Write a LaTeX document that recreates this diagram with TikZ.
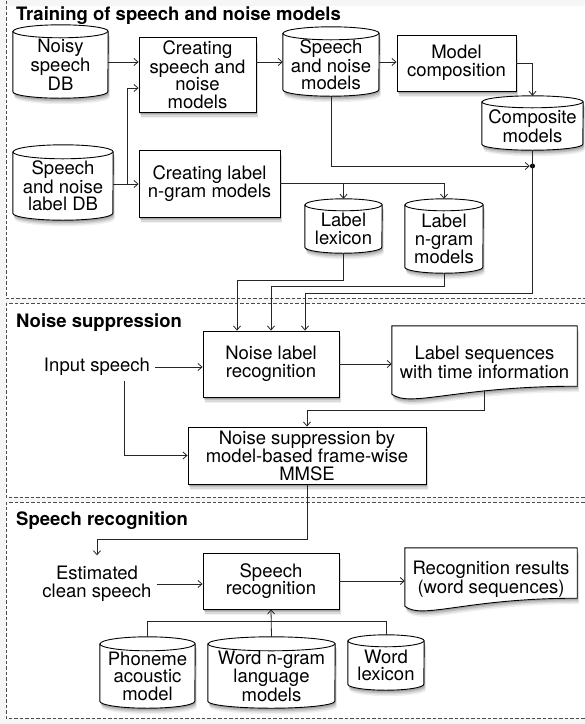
\documentclass[tikz,border=0pt]{standalone}
\usepackage{fontspec}
\setmainfont{TeX Gyre Heros}
\usetikzlibrary{arrows.meta,calc,backgrounds}
\pgfdeclarelayer{shp}
\pgfsetlayers{background,shp,main}
\newcommand\myfs{\fontsize{18.5}{17.5}\selectfont}
\tikzset{
  shad/.style={
    preaction={fill=black,opacity=0.14,transform canvas={xshift=0.5pt,yshift=-1.5pt}},
    preaction={fill=black,opacity=0.12,transform canvas={xshift=1pt,yshift=-3pt}},
    preaction={fill=black,opacity=0.09,transform canvas={xshift=1.5pt,yshift=-4.5pt}},
    preaction={fill=black,opacity=0.06,transform canvas={xshift=2pt,yshift=-6pt}}},
  box/.style={draw=black,line width=0.9pt,fill=white,shad,align=center,inner sep=0pt,font=\myfs},
  holder/.style={draw=none,align=center,inner sep=0pt,font=\myfs},
  plain/.style={align=center,inner sep=5pt,font=\myfs},
  ttl/.style={anchor=base west,inner sep=0pt,font=\myfs\bfseries},
  outline/.style={draw=black,line width=0.9pt,fill=white,shad},
  arr/.style={draw=black!85,line width=0.8pt,-{Straight Barb[length=4pt,width=7pt]}},
  conn/.style={draw=black!85,line width=0.8pt},
  frame/.style={draw=black!70,line width=0.9pt,dash pattern=on 3.5pt off 2pt},
  dotnode/.style={circle,fill=black,inner sep=0pt,minimum size=5pt}
}
% cylinder outline behind a holder node: #1 node, #2 x radius, #3 y radius
\newcommand\cylshape[3]{%
  \begin{pgfonlayer}{shp}
    \path[outline] (#1.north west) -- ([yshift=#3]#1.south west)
      arc[start angle=180,end angle=360,x radius=#2,y radius=#3]
      -- (#1.north east)
      arc[start angle=0,end angle=180,x radius=#2,y radius=#3] -- cycle;
    \draw[line width=0.9pt] (#1.north west)
      arc[start angle=180,end angle=360,x radius=#2,y radius=#3];
  \end{pgfonlayer}}
% document shape with wavy bottom behind a holder node
\newcommand\docshape[1]{%
  \begin{pgfonlayer}{shp}
    \path[outline] (#1.north west) -- (#1.north east) -- ([yshift=13pt]#1.south east)
      .. controls ($(#1.south west)!0.35!(#1.south east)+(0,13pt)$)
      and ($(#1.south west)!0.1!(#1.south east)+(0,-9pt)$) ..
      ([yshift=5pt]#1.south west) -- cycle;
  \end{pgfonlayer}}
\begin{document}
\begin{tikzpicture}[x=1pt,y=1pt]
\useasboundingbox (0,0) rectangle (585,-724);
% backgrounds and frames
\begin{pgfonlayer}{background}
\fill[gray!7] (0,0) rectangle (585,-724);
\fill[white] (6,-6) rectangle (585,-298);
\draw[frame] (6,5) -- (6,-298) -- (590,-298);
\fill[white] (6,-303) rectangle (585,-497);
\draw[frame] (590,-303) -- (6,-303) -- (6,-497) -- (590,-497);
\fill[white] (6,-502) rectangle (585,-718);
\draw[frame] (590,-502) -- (6,-502) -- (6,-718) -- (590,-718);
\end{pgfonlayer}

% titles
\node[ttl] (t1) at (16,-20) {Training of speech and noise models};
\node[ttl] (t2) at (16,-327) {Noise suppression};
\node[ttl] (t3) at (16,-525) {Speech recognition};

% section 1
\node[holder,minimum width=95pt,minimum height=66.5pt] (noisy) at (60.5,-64.75) {Noisy\\speech\\DB};
\cylshape{noisy}{47.5pt}{6.5pt}
\node[box,minimum width=117pt,minimum height=75pt] (csnm) at (197.5,-74.5) {Creating\\speech and\\noise\\models};
\node[holder,minimum width=96pt,minimum height=62.5pt] (snm) at (331,-64.75) {Speech\\and noise\\models};
\cylshape{snm}{48pt}{6.5pt}
\node[box,minimum width=119pt,minimum height=56pt] (mc) at (456.5,-63) {Model\\composition};
\node[holder,minimum width=101pt,minimum height=48pt] (comp) at (532.5,-126) {Composite\\models};
\cylshape{comp}{50.5pt}{6pt}
\node[holder,minimum width=100pt,minimum height=68pt] (labeldb) at (63,-186) {Speech\\and noise\\label DB};
\cylshape{labeldb}{50pt}{7pt}
\node[box,minimum width=141pt,minimum height=67pt] (clng) at (209.5,-183.5) {Creating label\\n-gram models};
\node[holder,minimum width=77pt,minimum height=48pt] (lex) at (343.5,-229) {Label\\lexicon};
\cylshape{lex}{38.5pt}{6pt}
\node[holder,minimum width=78pt,minimum height=68pt] (lng) at (444,-239) {Label\\n-gram\\models};
\cylshape{lng}{39pt}{6pt}
\node[dotnode] (dot) at (532.5,-166) {};

% section 2
\node[plain] (inp) at (97,-367) {Input speech};
\node[box,minimum width=136pt,minimum height=66pt] (nlr) at (271,-364) {Noise label\\recognition};
\node[holder,minimum width=185pt,minimum height=73pt] (lsti) at (484.5,-362.5) {Label sequences\\with time information};
\docshape{lsti}
\node[box,minimum width=238pt,minimum height=57pt] (mmse) at (307,-455.5) {Noise suppression by\\model-based frame-wise\\MMSE};

% section 3
\node[plain] (est) at (97,-584) {Estimated\\clean speech};
\node[box,minimum width=136pt,minimum height=56pt] (sr) at (271,-581) {Speech\\recognition};
\node[holder,minimum width=172pt,minimum height=63pt] (rr) at (491,-579.5) {Recognition results\\(word sequences)};
\docshape{rr}
\node[holder,minimum width=95pt,minimum height=64pt] (phon) at (147.5,-676) {Phoneme\\acoustic\\model};
\cylshape{phon}{47.5pt}{7pt}
\node[holder,minimum width=127pt,minimum height=64pt] (wng) at (271.5,-676) {Word n-gram\\language\\models};
\cylshape{wng}{63.5pt}{7pt}
\node[holder,minimum width=76pt,minimum height=49pt] (wl) at (386,-665.5) {Word\\lexicon};
\cylshape{wl}{38pt}{6pt}

% connectors, section 1
\coordinate (br) at (127,-184);
\draw[arr] (noisy.east |- 0,-62) -- (csnm.west |- 0,-62);
\draw[arr] (labeldb.east |- br) -- (clng.west |- br);
\draw[arr] (br) |- (csnm.west |- 0,-88);
\draw[arr] (csnm.east |- 0,-62) -- (snm.west |- 0,-62);
\draw[arr] (snm.east |- 0,-62) -- (mc.west |- 0,-62);
\draw[arr] (mc.east) -| ([yshift=6pt]comp.north);
\draw[arr] (snm.south) |- (dot.west);
\draw[arr] (comp.south) -- (comp.south |- 0,-293) -| ([xshift=34pt]nlr.north);
\draw[arr] (clng.east) -| ([yshift=6pt]lng.north);
\draw[arr] (clng.east -| lex.north) -- ([yshift=6pt]lex.north);
\draw[arr] (lex.south) -- (lex.south |- 0,-280) -| ([xshift=-34pt]nlr.north);
\draw[arr] (lng.south) -- (lng.south |- 0,-286) -| (nlr.north);

% connectors, section 2
\draw[arr] (inp.east) -- (inp.east -| nlr.west);
\draw[arr] ([xshift=27pt]inp.south) |- (mmse.west);
\draw[arr] (nlr.east) -- (lsti.west |- nlr.east);
\draw[arr] ([yshift=9pt]lsti.south) |- ([yshift=16pt]mmse.north) -- (mmse.north);

% connectors, section 3
\draw[arr] (mmse.south) -- (mmse.south |- 0,-539) -| ([yshift=6pt]est.north);
\draw[arr] (est.east) -- (est.east -| sr.west);
\draw[arr] (sr.east) -- (rr.west |- sr.east);
\draw[conn] ([yshift=7pt]phon.north) -- ++(0,15) -| ([yshift=6pt]wl.north);
\draw[arr] ([yshift=7pt]wng.north) -- (sr.south);
\end{tikzpicture}
\end{document}
